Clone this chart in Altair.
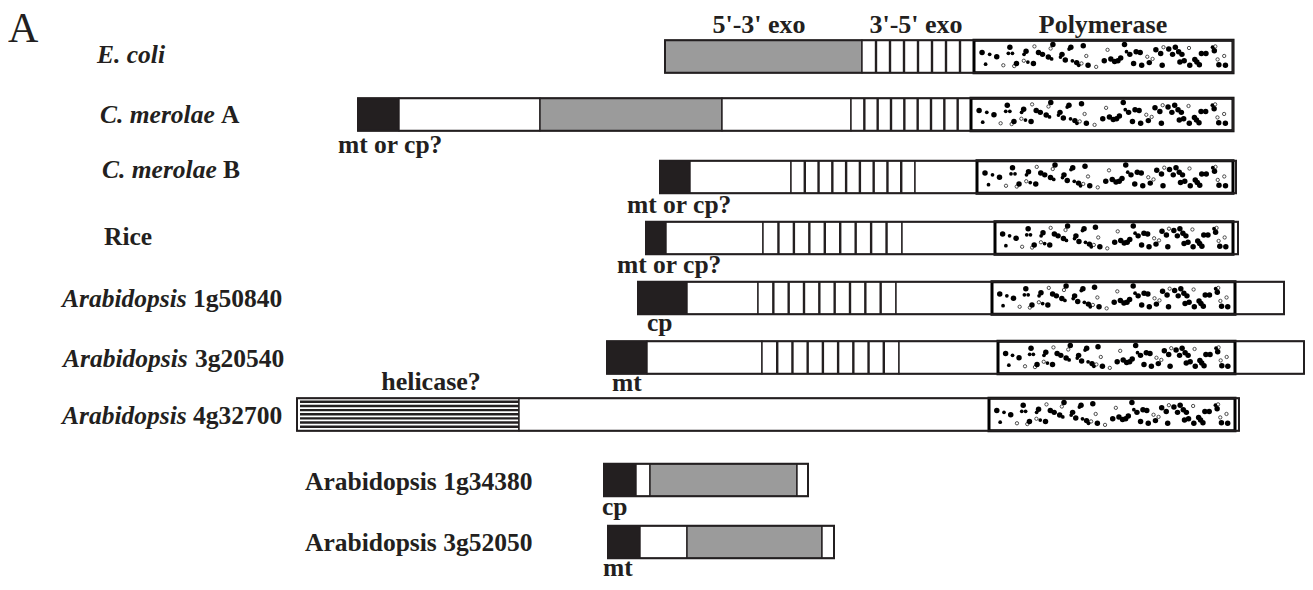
import altair as alt
import pandas as pd

# ---------------- data ----------------
PROTEINS = ["E. coli", "C. merolae A", "C. merolae B", "Rice",
            "Arabidopsis 1g50840", "Arabidopsis 3g20540", "Arabidopsis 4g32700",
            "Arabidopsis 1g34380", "Arabidopsis 3g52050"]
LABEL_ITALIC = ["E. coli", "C. merolae", "C. merolae", "", "Arabidopsis",
                "Arabidopsis", "Arabidopsis", "", ""]
LABEL_ROMAN = ["", "A", "B", "Rice", "1g50840", "3g20540", "4g32700",
               "Arabidopsis 1g34380", "Arabidopsis 3g52050"]

# domain boundaries along the common horizontal axis
DOMAIN_BOUNDS = [
    [665, 862, 974, 1233],
    [358, 399, 540, 722, 851, 971, 1233],
    [660, 690, 791, 915, 977, 1233, 1236],
    [646, 666, 763, 902, 995, 1233, 1238],
    [638, 687, 758, 896, 992, 1235, 1284],
    [607, 647, 762, 899, 998, 1235, 1304],
    [297, 519, 989, 1235, 1239],
    [604, 636, 650, 797, 808],
    [608, 640, 687, 822, 834],
]
DOMAIN_KINDS = [
    ["5'-3' exo", "3'-5' exo", "Polymerase"],
    ["transit", "linker", "5'-3' exo", "linker", "3'-5' exo", "Polymerase"],
    ["transit", "linker", "3'-5' exo", "linker", "Polymerase", "tail"],
    ["transit", "linker", "3'-5' exo", "linker", "Polymerase", "tail"],
    ["transit", "linker", "3'-5' exo", "linker", "Polymerase", "tail"],
    ["transit", "linker", "3'-5' exo", "linker", "Polymerase", "tail"],
    ["helicase?", "linker", "Polymerase", "tail"],
    ["transit", "linker", "5'-3' exo", "tail"],
    ["transit", "linker", "5'-3' exo", "tail"],
]
HATCH_CELLS = [8, 9, 9, 9, 9, 9, 0, 0, 0]
TARGETING = ["", "mt or cp?", "mt or cp?", "mt or cp?", "cp", "mt", "", "cp", "mt"]
DOMAIN_TITLES = ["5'-3' exo", "3'-5' exo", "Polymerase"]

# stipple texture of the polymerase domain (fraction across, fraction down, kind)
TEX_U = [.020, .050, .078, .034, .104, .130, .124, .140, .156, .194, .186, .185, .201,
         .223, .227, .243, .259, .282, .295, .291, .300, .336, .330, .349, .364, .371,
         .377, .394, .402, .413, .420, .432, .439, .471, .516, .503, .529, .544, .557,
         .568, .583, .591, .604, .619, .629, .645, .651, .673, .681, .694, .707, .726,
         .732, .737, .758, .773, .784, .797, .810, .802, .819, .838, .841, .861, .869,
         .879, .887, .905, .931, .938, .951, .956, .977, .982, .942, .147]
TEX_V = [.35, .42, .51, .79, .83, .15, .38, .38, .76, .30, .42, .66, .71,
         .76, .12, .35, .42, .52, .59, .20, .05, .42, .52, .63, .22, .15,
         .66, .73, .83, .76, .10, .48, .83, .89, .25, .66, .59, .69, .66,
         .56, .05, .32, .42, .76, .32, .35, .83, .51, .73, .59, .25, .39,
         .83, .15, .22, .42, .15, .32, .42, .71, .66, .18, .83, .61, .71,
         .81, .39, .39, .15, .28, .61, .81, .48, .83, .12, .86]
TEX_K = list("FfFfoFffFFfofFoFFFfoFFfFfFfFfoFoFooFFFFFFfFFFFFoFoFFFoFFFFFFFoFFFFFFfFoFoFoo")

# ---------------- layout ----------------
ROW_CENTER = [56.5, 114.5, 177, 238, 298, 357.5, 414.5, 480, 542]
HALF = 16.3
LABEL_BASE = [63, 123, 178, 245, 307, 367, 424, 490, 551]
LABEL_X_IT = [97, 100, 102, 0, 62, 63, 62, 0, 0]
LABEL_X_RO = [0, 221, 223, 104, 193, 195, 193, 305, 305]
TARGET_X = [0, 338, 627, 617, 647, 612, 0, 602, 603]
TARGET_BASE = [0, 153, 213, 273, 331, 391, 0, 515, 576]
TITLE_X = [759, 916, 1103]
TITLE_BASE = 33

FILL = {"5'-3' exo": "#9b9b9b", "3'-5' exo": "#ffffff", "Polymerase": "#ffffff",
        "transit": "#231f20", "linker": "#ffffff", "helicase?": "#ffffff", "tail": "#ffffff"}
INK = "#231f20"
FONT = "Liberation Serif"
FS = 25.5

# ---------------- tables ----------------
seg_rows, hatch_rows, stripe_rows, dot_rows, outline_rows = [], [], [], [], []
for i, (b, kinds) in enumerate(zip(DOMAIN_BOUNDS, DOMAIN_KINDS)):
    top, bot = ROW_CENTER[i] - HALF, ROW_CENTER[i] + HALF
    outline_rows.append(dict(x=b[0], x2=b[-1], y=top, y2=bot))
    for j, kind in enumerate(kinds):
        x0, x1 = b[j], b[j + 1]
        seg_rows.append(dict(protein=PROTEINS[i], kind=kind, x=x0, x2=x1, y=top, y2=bot))
        if kind == "3'-5' exo":
            n = HATCH_CELLS[i]
            for k in range(1, n):
                hatch_rows.append(dict(x=x0 + (x1 - x0) * k / n, y=top, y2=bot))
        if kind == "helicase?":
            for k in range(7):
                stripe_rows.append(dict(x=x0 + 3, x2=x1, y=top + 3.6 + k * 4.15))
        if kind == "Polymerase":
            for u, v, t in zip(TEX_U, TEX_V, TEX_K):
                dot_rows.append(dict(x=x0 + 3 + u * (x1 - x0 - 6), y=top + 3 + v * (bot - top - 6), t=t))

seg = pd.DataFrame(seg_rows)
hatch = pd.DataFrame(hatch_rows)
stripes = pd.DataFrame(stripe_rows)
dots = pd.DataFrame(dot_rows)
outline = pd.DataFrame(outline_rows)

lab_it = pd.DataFrame([dict(x=LABEL_X_IT[i], y=LABEL_BASE[i], text=LABEL_ITALIC[i])
                       for i in range(len(PROTEINS)) if LABEL_ITALIC[i]])
lab_ro = pd.DataFrame([dict(x=LABEL_X_RO[i], y=LABEL_BASE[i], text=LABEL_ROMAN[i])
                       for i in range(len(PROTEINS)) if LABEL_ROMAN[i]])
targ = pd.DataFrame([dict(x=TARGET_X[i], y=TARGET_BASE[i], text=TARGETING[i])
                     for i in range(len(PROTEINS)) if TARGETING[i]])
titles = pd.DataFrame([dict(x=TITLE_X[i], y=TITLE_BASE, text=DOMAIN_TITLES[i]) for i in range(3)]
                      + [dict(x=431, y=390, text="helicase?")])
panel = pd.DataFrame([dict(x=8, y=42, text="A")])

XS = alt.Scale(domain=[8, 1305], nice=False, zero=False)
YS = alt.Scale(domain=[8, 582], nice=False, zero=False, reverse=True)


def X(f="x"):
    return alt.X(f"{f}:Q", scale=XS, axis=None)


def Y(f="y"):
    return alt.Y(f"{f}:Q", scale=YS, axis=None)


segs = alt.Chart(seg).mark_rect(stroke=INK, strokeWidth=1.4).encode(
    x=X(), x2="x2:Q", y=Y(), y2="y2:Q",
    color=alt.Color("kind:N", scale=alt.Scale(domain=list(FILL.keys()), range=list(FILL.values())),
                    legend=None))
hatch_l = alt.Chart(hatch).mark_rule(color=INK, strokeWidth=2.4).encode(x=X(), y=Y(), y2="y2:Q")
stripe_l = alt.Chart(stripes).mark_rule(color=INK, strokeWidth=2.4).encode(x=X(), x2="x2:Q", y=Y())
dots_big = alt.Chart(dots[dots.t == "F"]).mark_circle(color="black", size=30, opacity=1).encode(x=X(), y=Y())
dots_small = alt.Chart(dots[dots.t == "f"]).mark_circle(color="black", size=14, opacity=1).encode(x=X(), y=Y())
dots_open = alt.Chart(dots[dots.t == "o"]).mark_point(color="black", size=11, strokeWidth=1,
                                                      filled=False, shape="circle").encode(x=X(), y=Y())
pol_border = alt.Chart(seg[seg.kind == "Polymerase"]).mark_rect(
    fill=None, stroke="black", strokeWidth=3).encode(x=X(), x2="x2:Q", y=Y(), y2="y2:Q")
outline_l = alt.Chart(outline).mark_rect(fill=None, stroke=INK, strokeWidth=2).encode(
    x=X(), x2="x2:Q", y=Y(), y2="y2:Q")


def txt(df, size, style="normal", weight="bold", align="left"):
    return alt.Chart(df).mark_text(font=FONT, fontSize=size, fontStyle=style, fontWeight=weight,
                                   align=align, baseline="alphabetic", color=INK).encode(
        x=X(), y=Y(), text="text:N")


chart = alt.layer(
    segs, hatch_l, stripe_l, dots_big, dots_small, dots_open, pol_border, outline_l,
    txt(lab_it, FS, style="italic"), txt(lab_ro, FS), txt(targ, FS),
    txt(titles, 26, align="center"), txt(panel, 42, weight="normal"),
).properties(width=1297, height=574, autosize=alt.AutoSizeParams(type="none"), padding=0,
             background="white").configure_view(stroke=None)

chart.save("out.html", embed_options={"renderer": "svg", "actions": False})
